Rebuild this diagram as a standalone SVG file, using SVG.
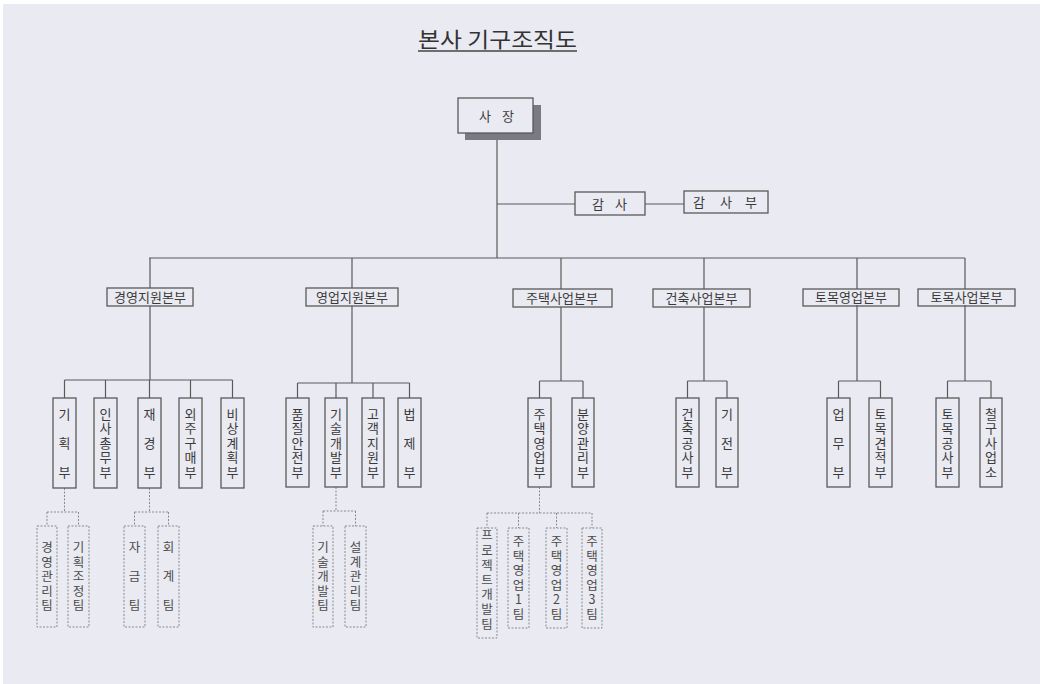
<svg xmlns="http://www.w3.org/2000/svg" width="1040" height="684" viewBox="0 0 1040 684">
<style>
text{font-family:"Noto Sans CJK KR","Noto Sans",sans-serif;fill:#3a3a3a}
.t{font-size:13px;text-anchor:middle}
.s{font-size:12.5px;text-anchor:middle;fill:#4a4a4a}
.title{font-size:21px;fill:#333}
.box{fill:none;stroke:#5a5a5a;stroke-width:1.3}
.dbox{fill:none;stroke:#8a8a8a;stroke-width:1;stroke-dasharray:2 1.5}
.ln{fill:none;stroke:#5a5a5a;stroke-width:1.2}
.dl{fill:none;stroke:#8a8a8a;stroke-width:1;stroke-dasharray:2 1.5}
</style>
<rect x="0" y="0" width="1040" height="684" fill="#eaeaf2"/>
<rect x="0" y="0" width="1040" height="4" fill="#ffffff"/>
<rect x="0" y="0" width="3" height="684" fill="#ffffff"/>

<g id="title">
<text class="title" x="418" y="47" textLength="159" lengthAdjust="spacingAndGlyphs">본사 기구조직도</text>
<line x1="418" y1="51" x2="577" y2="51" stroke="#444" stroke-width="1.5"/>
</g>

<g id="connectors">
<path class="ln" d="M497 133V258M497 204H575M645 204H684"/>
<path class="ln" d="M149 258H965M150 258V288M352 258V288M561 258V289M704 258V289M857 258V289M965 258V289"/>
<path class="ln" d="M150 306V380M64.5 380H232.5M64.5 380V398M105.5 380V398M149.5 380V398M190.5 380V398M232.5 380V398"/>
<path class="ln" d="M352 306V383M297.5 383H409.5M297.5 383V398M336 383V398M373 383V398M409.5 383V398"/>
<path class="ln" d="M561 307V381M539.5 381H583M539.5 381V398M583 381V398"/>
<path class="ln" d="M704 307V381M687.5 381H727M687.5 381V398M727 381V398"/>
<path class="ln" d="M857 305V381M838.5 381H880.5M838.5 381V398M880.5 381V398"/>
<path class="ln" d="M965 305V381M947.5 381H991M947.5 381V398M991 381V398"/>
<path class="dl" d="M64.5 488V512M47 512H78.5M47 512V526M78.5 512V526"/>
<path class="dl" d="M149.5 488V512M134.5 512H168.5M134.5 512V526M168.5 512V526"/>
<path class="dl" d="M336 487V511M323 511H355.5M323 511V526M355.5 511V526"/>
<path class="dl" d="M539.5 487V513M487 513H592M487 513V528M518.5 513V528M556.5 513V528M592 513V528"/>
</g>

<g id="n-president">
<rect x="465" y="105" width="76" height="35" fill="#7a7a80"/>
<rect x="458" y="98" width="75" height="35" fill="#eaeaf2" stroke="#5a5a5a" stroke-width="1.3"/>
<text class="t" y="120.5"><tspan x="485">사</tspan><tspan x="508">장</tspan></text>
</g>
<g id="n-audit">
<rect class="box" x="575" y="192" width="70" height="23"/>
<text class="t" y="208.5"><tspan x="598">감</tspan><tspan x="621">사</tspan></text>
</g>
<g id="n-auditdept">
<rect class="box" x="684" y="191" width="84" height="22"/>
<text class="t" y="207"><tspan x="699">감</tspan><tspan x="726">사</tspan><tspan x="751">부</tspan></text>
</g>

<g id="n-hq1"><rect class="box" x="107" y="288" width="86" height="18"/><text class="t" x="150" y="301.5">경영지원본부</text></g>
<g id="n-hq2"><rect class="box" x="306" y="288" width="92" height="18"/><text class="t" x="352" y="301.5">영업지원본부</text></g>
<g id="n-hq3"><rect class="box" x="513" y="289" width="99" height="18"/><text class="t" x="562" y="302.5">주택사업본부</text></g>
<g id="n-hq4"><rect class="box" x="653" y="289" width="97" height="18"/><text class="t" x="701.5" y="302.5">건축사업본부</text></g>
<g id="n-hq5"><rect class="box" x="803" y="289" width="96" height="17"/><text class="t" x="851" y="302">토목영업본부</text></g>
<g id="n-hq6"><rect class="box" x="918" y="289" width="97" height="17"/><text class="t" x="966.5" y="302">토목사업본부</text></g>

<g id="n-d1"><rect class="box" x="53" y="398" width="23" height="90"/><text class="t"><tspan x="64.5" y="418.5">기</tspan><tspan x="64.5" y="447.5">획</tspan><tspan x="64.5" y="476.5">부</tspan></text></g>
<g id="n-d2"><rect class="box" x="94" y="398" width="23" height="90"/><text class="t"><tspan x="105.5" y="418.5">인</tspan><tspan x="105.5" y="433">사</tspan><tspan x="105.5" y="447.5">총</tspan><tspan x="105.5" y="462">무</tspan><tspan x="105.5" y="476.5">부</tspan></text></g>
<g id="n-d3"><rect class="box" x="138" y="398" width="23" height="90"/><text class="t"><tspan x="149.5" y="418.5">재</tspan><tspan x="149.5" y="447.5">경</tspan><tspan x="149.5" y="476.5">부</tspan></text></g>
<g id="n-d4"><rect class="box" x="179" y="398" width="23" height="90"/><text class="t"><tspan x="190.5" y="418.5">외</tspan><tspan x="190.5" y="433">주</tspan><tspan x="190.5" y="447.5">구</tspan><tspan x="190.5" y="462">매</tspan><tspan x="190.5" y="476.5">부</tspan></text></g>
<g id="n-d5"><rect class="box" x="221" y="398" width="23" height="90"/><text class="t"><tspan x="232.5" y="418.5">비</tspan><tspan x="232.5" y="433">상</tspan><tspan x="232.5" y="447.5">계</tspan><tspan x="232.5" y="462">획</tspan><tspan x="232.5" y="476.5">부</tspan></text></g>

<g id="n-d6"><rect class="box" x="286" y="398" width="23" height="89"/><text class="t"><tspan x="297.5" y="418.5">품</tspan><tspan x="297.5" y="433">질</tspan><tspan x="297.5" y="447.5">안</tspan><tspan x="297.5" y="462">전</tspan><tspan x="297.5" y="476.5">부</tspan></text></g>
<g id="n-d7"><rect class="box" x="325" y="398" width="22" height="89"/><text class="t"><tspan x="336" y="418.5">기</tspan><tspan x="336" y="433">술</tspan><tspan x="336" y="447.5">개</tspan><tspan x="336" y="462">발</tspan><tspan x="336" y="476.5">부</tspan></text></g>
<g id="n-d8"><rect class="box" x="362" y="398" width="22" height="89"/><text class="t"><tspan x="373" y="418.5">고</tspan><tspan x="373" y="433">객</tspan><tspan x="373" y="447.5">지</tspan><tspan x="373" y="462">원</tspan><tspan x="373" y="476.5">부</tspan></text></g>
<g id="n-d9"><rect class="box" x="398" y="398" width="23" height="89"/><text class="t"><tspan x="409.5" y="418.5">법</tspan><tspan x="409.5" y="447.5">제</tspan><tspan x="409.5" y="476.5">부</tspan></text></g>

<g id="n-d10"><rect class="box" x="528" y="398" width="23" height="89"/><text class="t"><tspan x="539.5" y="418.5">주</tspan><tspan x="539.5" y="433">택</tspan><tspan x="539.5" y="447.5">영</tspan><tspan x="539.5" y="462">업</tspan><tspan x="539.5" y="476.5">부</tspan></text></g>
<g id="n-d11"><rect class="box" x="572" y="398" width="22" height="89"/><text class="t"><tspan x="583" y="418.5">분</tspan><tspan x="583" y="433">양</tspan><tspan x="583" y="447.5">관</tspan><tspan x="583" y="462">리</tspan><tspan x="583" y="476.5">부</tspan></text></g>

<g id="n-d12"><rect class="box" x="676" y="398" width="23" height="89"/><text class="t"><tspan x="687.5" y="418.5">건</tspan><tspan x="687.5" y="433">축</tspan><tspan x="687.5" y="447.5">공</tspan><tspan x="687.5" y="462">사</tspan><tspan x="687.5" y="476.5">부</tspan></text></g>
<g id="n-d13"><rect class="box" x="716" y="398" width="22" height="89"/><text class="t"><tspan x="727" y="418.5">기</tspan><tspan x="727" y="447.5">전</tspan><tspan x="727" y="476.5">부</tspan></text></g>

<g id="n-d14"><rect class="box" x="827" y="398" width="23" height="89"/><text class="t"><tspan x="838.5" y="418.5">업</tspan><tspan x="838.5" y="447.5">무</tspan><tspan x="838.5" y="476.5">부</tspan></text></g>
<g id="n-d15"><rect class="box" x="869" y="398" width="23" height="89"/><text class="t"><tspan x="880.5" y="418.5">토</tspan><tspan x="880.5" y="433">목</tspan><tspan x="880.5" y="447.5">견</tspan><tspan x="880.5" y="462">적</tspan><tspan x="880.5" y="476.5">부</tspan></text></g>

<g id="n-d16"><rect class="box" x="936" y="398" width="23" height="89"/><text class="t"><tspan x="947.5" y="418.5">토</tspan><tspan x="947.5" y="433">목</tspan><tspan x="947.5" y="447.5">공</tspan><tspan x="947.5" y="462">사</tspan><tspan x="947.5" y="476.5">부</tspan></text></g>
<g id="n-d17"><rect class="box" x="980" y="398" width="22" height="89"/><text class="t"><tspan x="991" y="418.5">철</tspan><tspan x="991" y="433">구</tspan><tspan x="991" y="447.5">사</tspan><tspan x="991" y="462">업</tspan><tspan x="991" y="476.5">소</tspan></text></g>

<g id="n-t1"><rect class="dbox" x="37" y="526" width="20" height="101"/><text class="s"><tspan x="47" y="552">경</tspan><tspan x="47" y="566.5">영</tspan><tspan x="47" y="581">관</tspan><tspan x="47" y="595.5">리</tspan><tspan x="47" y="610">팀</tspan></text></g>
<g id="n-t2"><rect class="dbox" x="68" y="526" width="21" height="101"/><text class="s"><tspan x="78.5" y="552">기</tspan><tspan x="78.5" y="566.5">획</tspan><tspan x="78.5" y="581">조</tspan><tspan x="78.5" y="595.5">정</tspan><tspan x="78.5" y="610">팀</tspan></text></g>
<g id="n-t3"><rect class="dbox" x="124" y="526" width="21" height="101"/><text class="s"><tspan x="134.5" y="552">자</tspan><tspan x="134.5" y="581">금</tspan><tspan x="134.5" y="610">팀</tspan></text></g>
<g id="n-t4"><rect class="dbox" x="158" y="526" width="21" height="101"/><text class="s"><tspan x="168.5" y="552">회</tspan><tspan x="168.5" y="581">계</tspan><tspan x="168.5" y="610">팀</tspan></text></g>
<g id="n-t5"><rect class="dbox" x="313" y="526" width="20" height="101"/><text class="s"><tspan x="323" y="552">기</tspan><tspan x="323" y="566.5">술</tspan><tspan x="323" y="581">개</tspan><tspan x="323" y="595.5">발</tspan><tspan x="323" y="610">팀</tspan></text></g>
<g id="n-t6"><rect class="dbox" x="345" y="526" width="21" height="101"/><text class="s"><tspan x="355.5" y="552">설</tspan><tspan x="355.5" y="566.5">계</tspan><tspan x="355.5" y="581">관</tspan><tspan x="355.5" y="595.5">리</tspan><tspan x="355.5" y="610">팀</tspan></text></g>
<g id="n-t7"><rect class="dbox" x="477" y="528" width="20" height="110"/><text class="s"><tspan x="487" y="540.1">프</tspan><tspan x="487" y="554.9">로</tspan><tspan x="487" y="569.7">젝</tspan><tspan x="487" y="584.5">트</tspan><tspan x="487" y="599.3">개</tspan><tspan x="487" y="614.1">발</tspan><tspan x="487" y="628.9">팀</tspan></text></g>
<g id="n-t8"><rect class="dbox" x="508" y="528" width="21" height="100"/><text class="s"><tspan x="518.5" y="546.3">주</tspan><tspan x="518.5" y="560.8">택</tspan><tspan x="518.5" y="575.3">영</tspan><tspan x="518.5" y="589.8">업</tspan><tspan x="518.5" y="604.3">1</tspan><tspan x="518.5" y="618.8">팀</tspan></text></g>
<g id="n-t9"><rect class="dbox" x="546" y="528" width="21" height="100"/><text class="s"><tspan x="556.5" y="546.3">주</tspan><tspan x="556.5" y="560.8">택</tspan><tspan x="556.5" y="575.3">영</tspan><tspan x="556.5" y="589.8">업</tspan><tspan x="556.5" y="604.3">2</tspan><tspan x="556.5" y="618.8">팀</tspan></text></g>
<g id="n-t10"><rect class="dbox" x="582" y="528" width="20" height="100"/><text class="s"><tspan x="592" y="546.3">주</tspan><tspan x="592" y="560.8">택</tspan><tspan x="592" y="575.3">영</tspan><tspan x="592" y="589.8">업</tspan><tspan x="592" y="604.3">3</tspan><tspan x="592" y="618.8">팀</tspan></text></g>
</svg>
